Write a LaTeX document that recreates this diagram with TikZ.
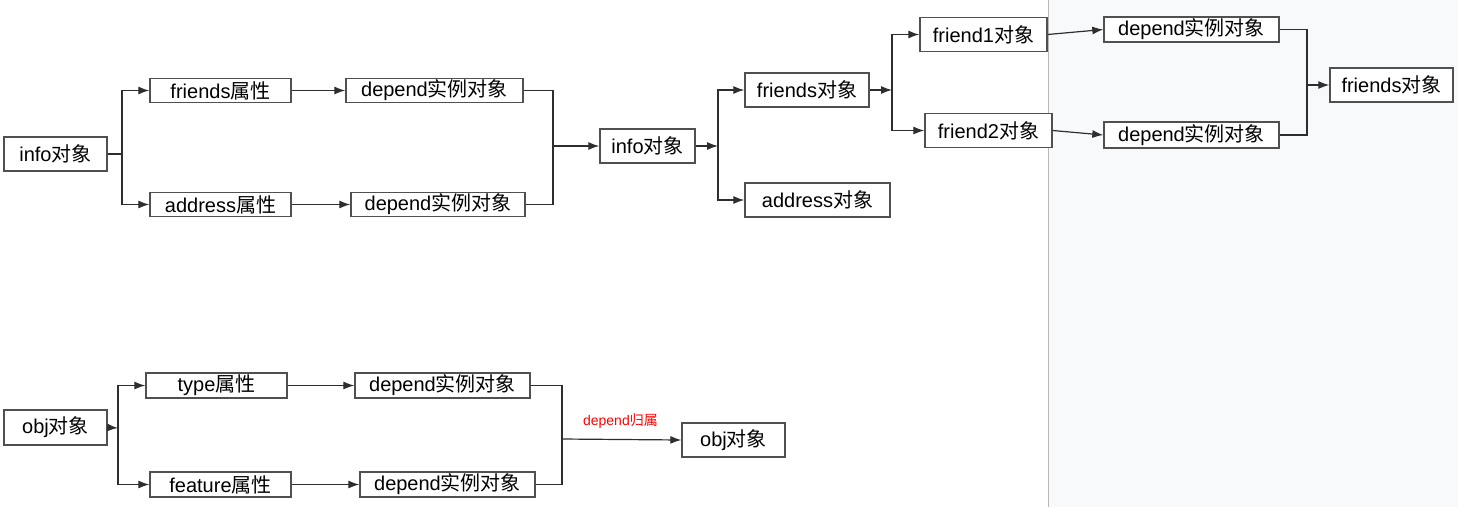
\documentclass[tikz,border=0pt]{standalone}
\usepackage{fontspec}
\setmainfont{Liberation Sans}
\newfontfamily\cjkfont{Noto Sans CJK SC}
\newcommand\zh[1]{{\cjkfont #1}}
\usetikzlibrary{positioning,arrows.meta}

\definecolor{linegray}{HTML}{2E2E2E}
\definecolor{boxgray}{HTML}{505050}
\definecolor{panelbg}{HTML}{F8F9FB}
\definecolor{panelline}{HTML}{B8B8B8}

\tikzset{
  objbox/.style={draw=boxgray, line width=1.4pt, fill=white, inner sep=0pt,
    font=\fontsize{20}{22}\selectfont},
  flatbox/.style={objbox, minimum height=24pt},
  tallbox/.style={objbox, minimum height=34pt},
  link/.style={draw=linegray, line width=1.2pt},
  tip/.style={-{Latex[length=11pt,width=8pt]}}
}

\begin{document}
\begin{tikzpicture}[x=1pt,y=-1pt]
		\useasboundingbox (0,0) rectangle (1458,507);

		% Right panel
		\fill[panelbg] (1048,0) rectangle (1458,507);
		\draw[panelline, line width=1pt] (1048,0) -- (1048,507);

		% info object: attributes
		\node[tallbox, minimum width=103pt] (info) at (55.5,154) {info\zh{对象}};
		\node[flatbox, minimum width=141pt] (friendsattr) at (220.5,90.5) {friends\zh{属性}};
		\node[flatbox, minimum width=141pt] (addrattr) at (220.5,204.5) {address\zh{属性}};
		\node[flatbox, minimum width=177pt] (depA) at (434.5,90.5) {depend\zh{实例对象}};
		\node[flatbox, minimum width=174pt] (depB) at (438,204.5) {depend\zh{实例对象}};

		% info object: objects
		\node[tallbox, minimum width=95pt] (infoobj) at (647.5,146) {info\zh{对象}};
		\node[tallbox, minimum width=124pt] (friendsobj) at (807,90) {friends\zh{对象}};
		\node[tallbox, minimum width=145pt] (addrobj) at (817.5,200) {address\zh{对象}};
		\node[tallbox, minimum width=127pt] (friendone) at (983.5,34.5) {friend1\zh{对象}};
		\node[tallbox, minimum width=127pt] (friendtwo) at (988.5,130.5) {friend2\zh{对象}};
		\node[flatbox, minimum width=175pt, minimum height=25pt] (depC) at (1191.5,29.5) {depend\zh{实例对象}};
		\node[flatbox, minimum width=175pt, minimum height=26pt] (depD) at (1191.5,135) {depend\zh{实例对象}};
		\node[tallbox, minimum width=123pt] (friendsfin) at (1391.5,85) {friends\zh{对象}};

		% obj object
		\node[tallbox, minimum width=103pt, minimum height=35pt] (obj) at (55.5,427.5) {obj\zh{对象}};
		\node[flatbox, minimum width=141pt, minimum height=25pt] (typeattr) at (216.5,385.5) {type\zh{属性}};
		\node[flatbox, minimum width=141pt, minimum height=25pt] (featattr) at (220.5,484.5) {feature\zh{属性}};
		\node[flatbox, minimum width=175pt, minimum height=25pt] (depE) at (442.5,385.5) {depend\zh{实例对象}};
		\node[flatbox, minimum width=175pt, minimum height=25pt] (depF) at (447.5,484.5) {depend\zh{实例对象}};
		\node[tallbox, minimum width=103pt] (objfin) at (733.5,440) {obj\zh{对象}};

		% Junctions
		\coordinate (splitinfo) at (122,154);
		\coordinate (mergeinfo) at (553,146);
		\coordinate (splitobj) at (718,146);
		\coordinate (splitfriends) at (892,90);
		\coordinate (mergefriends) at (1307,85);
		\coordinate (splitobjattr) at (118,428);
		\coordinate (mergeobj) at (562,439);

		% Links: info
		\draw[link] (info.east) -- (splitinfo);
		\draw[link, tip] (splitinfo) |- (friendsattr.west);
		\draw[link, tip] (splitinfo) |- (addrattr.west);
		\draw[link, tip] (friendsattr) -- (depA);
		\draw[link, tip] (addrattr) -- (depB);
		\draw[link] (depA.east) -| (mergeinfo) |- (depB.east);
		\draw[link, tip] (mergeinfo) -- (infoobj.west);
		\draw[link, tip] (infoobj.east) -- (splitobj);
		\draw[link, tip] (splitobj) |- (friendsobj.west);
		\draw[link, tip] (splitobj) |- (addrobj.west);
		\draw[link, tip] (friendsobj.east) -- (splitfriends);
		\draw[link, tip] (splitfriends) |- (friendone.west);
		\draw[link, tip] (splitfriends) |- (friendtwo.west);
		\draw[link, tip] (friendone.east) -- (depC.west);
		\draw[link, tip] (friendtwo.east) -- (depD.west);
		\draw[link] (depC.east) -| (mergefriends) |- (depD.east);
		\draw[link, tip] (mergefriends) -- (friendsfin.west);

		% Links: obj
		\draw[link, tip] (obj.east) -- (splitobjattr);
		\draw[link, tip] (splitobjattr) |- (typeattr.west);
		\draw[link, tip] (splitobjattr) |- (featattr.west);
		\draw[link, tip] (typeattr) -- (depE);
		\draw[link, tip] (featattr) -- (depF);
		\draw[link] (depE.east) -| (mergeobj) |- (depF.east);
		\draw[link, tip] (mergeobj) -- (objfin.west)
			node[pos=0.49, above=7pt, text=red, font=\fontsize{14}{16}\selectfont] (belong) {depend\zh{归属}};
	\end{tikzpicture}
\end{document}
